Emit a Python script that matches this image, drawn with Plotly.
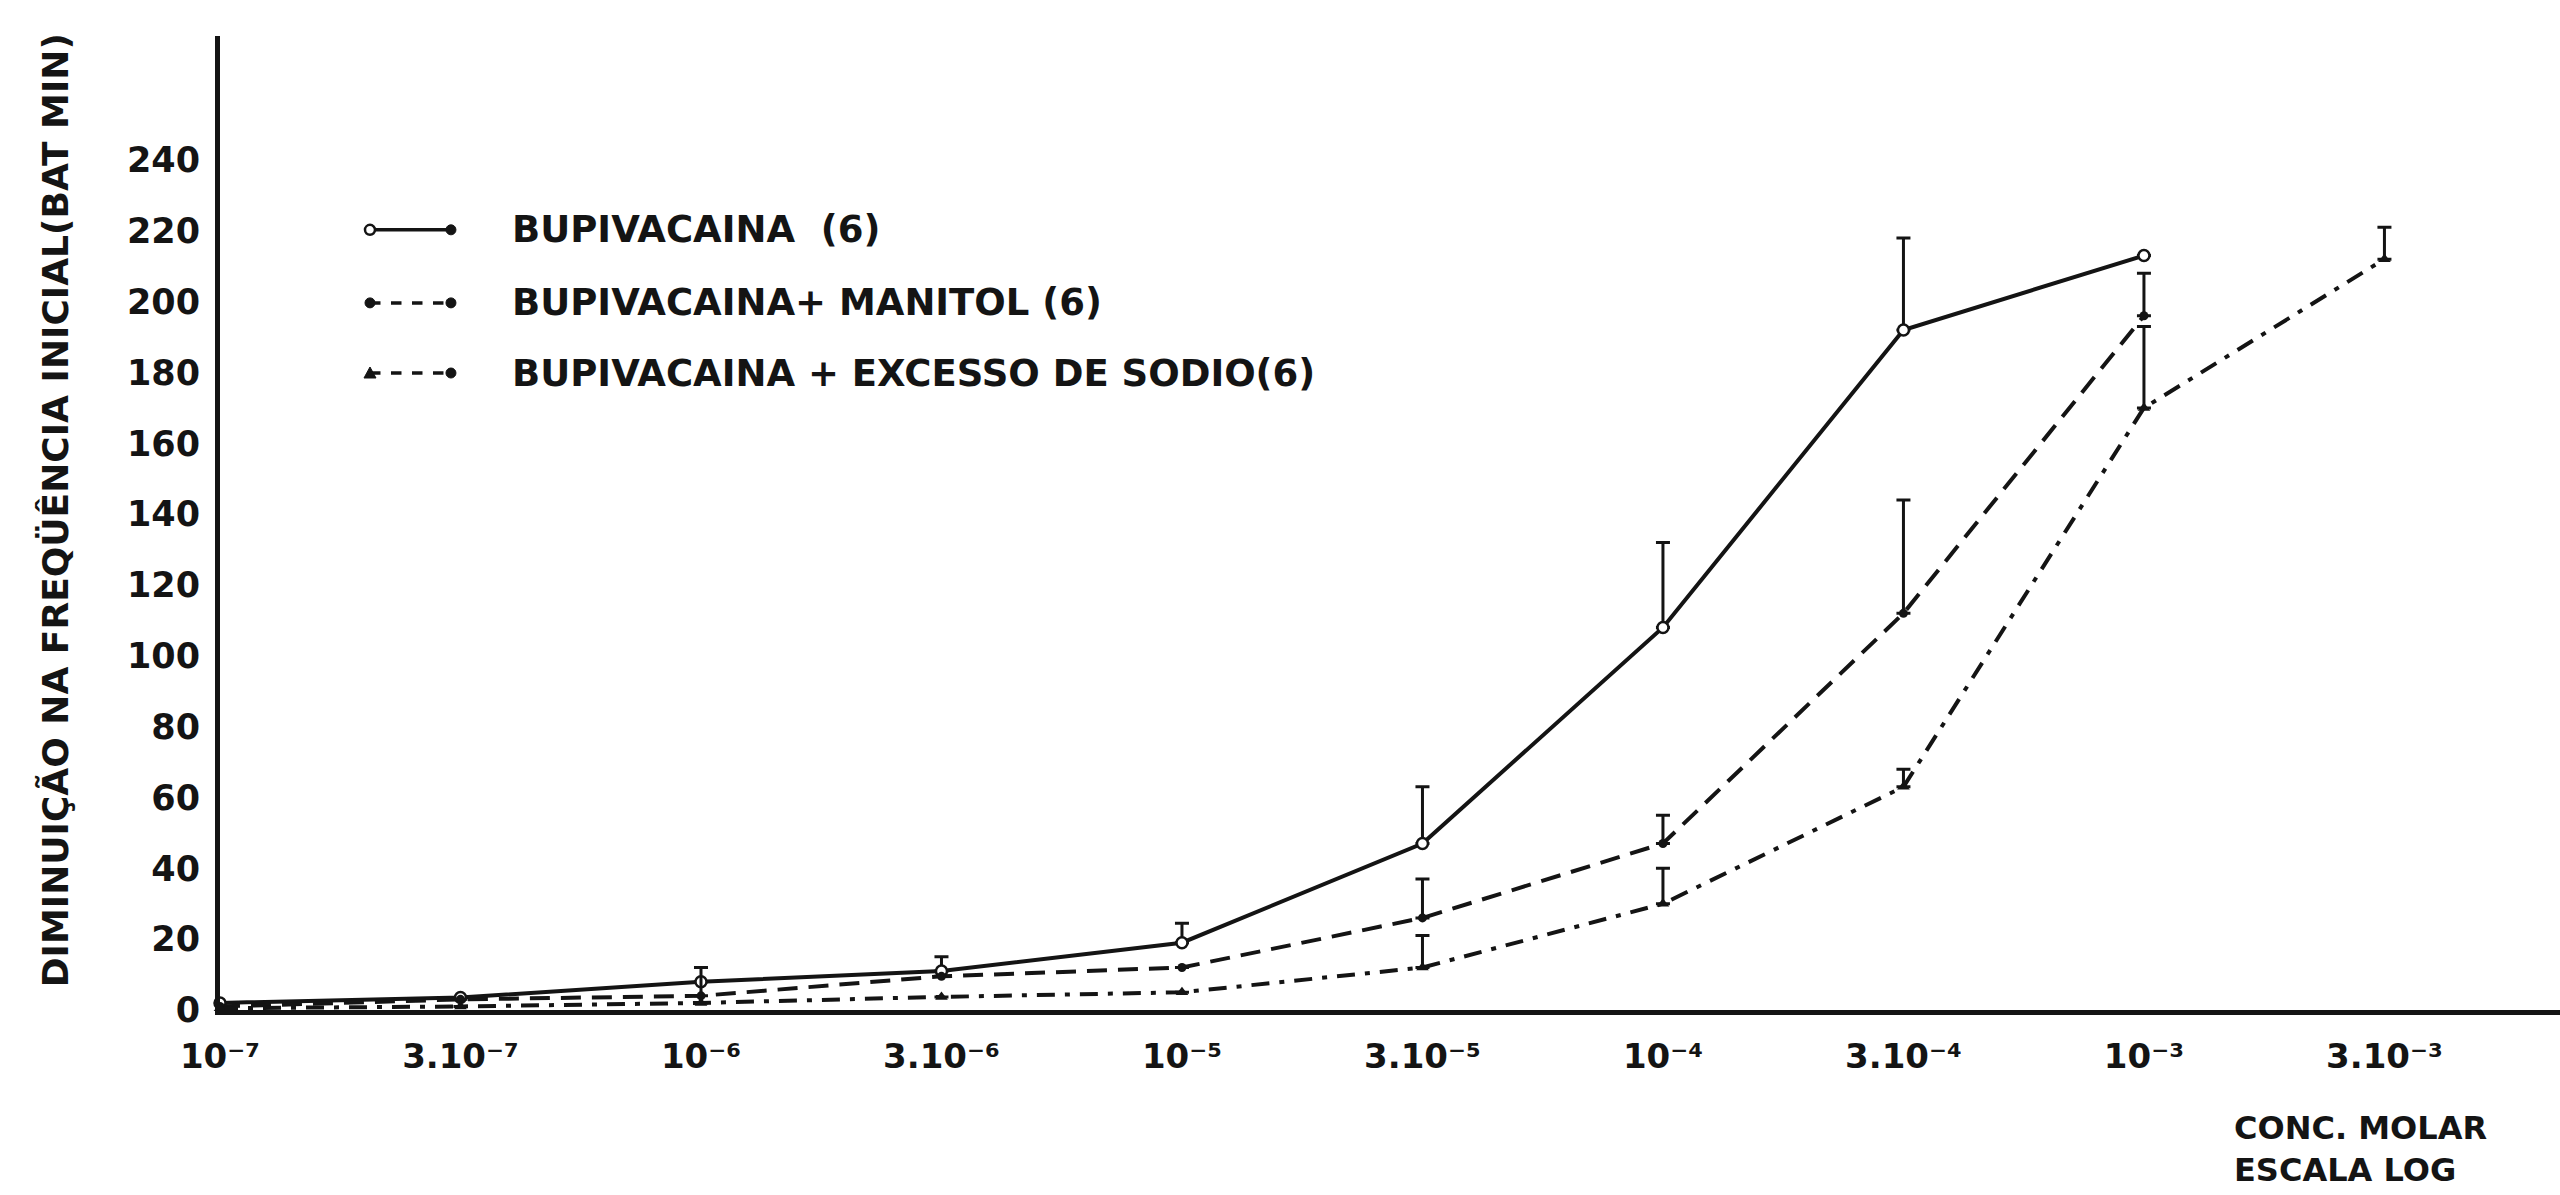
import plotly.graph_objects as go

# Molar concentrations (log scale, one step per category)
conc = ["1e-7", "3e-7", "1e-6", "3e-6", "1e-5", "3e-5", "1e-4", "3e-4", "1e-3", "3e-3"]
conc_labels = ["10⁻⁷", "3.10⁻⁷", "10⁻⁶", "3.10⁻⁶", "10⁻⁵",
               "3.10⁻⁵", "10⁻⁴", "3.10⁻⁴", "10⁻³", "3.10⁻³"]

# Decrease of initial rate (beats/min), mean and upper error
bupi = [2, 3.5, 8, 11, 19, 47, 108, 192, 213, None]
bupi_err = [None, None, None, 4, 5.5, 16, 24, 26, None, None]

mani = [1, 3, 4, 9.5, 12, 26, 47, 112, 196, None]
mani_err = [None, None, None, None, None, 11, 8, 32, 12, None]

sodio = [0.5, 1, 2, 3.7, 5, 12, 30, 63, 170, 212]
sodio_err = [None, None, 10, None, None, 9, 10, 5, 23, 9]

y_ticks = list(range(0, 241, 20))

names = ["BUPIVACAINA\u00a0\u00a0(6)", "BUPIVACAINA+ MANITOL (6)", "BUPIVACAINA + EXCESSO DE SODIO(6)"]

INK = "#141414"
FONT = "DejaVu Sans"
SOLID = "solid"
DASH_M = "20px,11px"
DASH_S = "18px,10px,5px,10px"


def err(e):
    return dict(type="data", symmetric=False, array=e,
                arrayminus=[0 if v is not None else None for v in e],
                color=INK, thickness=3, width=7, visible=True)


fig = go.Figure()
fig.add_trace(go.Scatter(
    x=conc, y=bupi, mode="lines+markers", name=names[0],
    line=dict(color=INK, width=4, dash=SOLID),
    marker=dict(symbol="circle", size=11, color="white", line=dict(color=INK, width=2.5)),
    error_y=err(bupi_err), cliponaxis=False))
fig.add_trace(go.Scatter(
    x=conc, y=mani, mode="lines+markers", name=names[1],
    line=dict(color=INK, width=4, dash=DASH_M),
    marker=dict(symbol="circle", size=9, color=INK),
    error_y=err(mani_err), cliponaxis=False))
fig.add_trace(go.Scatter(
    x=conc, y=sodio, mode="lines+markers", name=names[2],
    line=dict(color=INK, width=4, dash=DASH_S),
    marker=dict(symbol="triangle-up", size=11, color=INK),
    error_y=err(sodio_err), cliponaxis=False))

# Hand-built key: sample line with end markers, then the label
key_rows = [0.801, 0.726, 0.654]
key_x0, key_x1, key_text_x = 0.0641, 0.0987, 0.1239
key_dash = ["solid", "dash", "dash"]
shapes = []
annotations = []
for i, yy in enumerate(key_rows):
    shapes.append(dict(type="line", xref="paper", yref="paper", x0=key_x0, x1=key_x1, y0=yy, y1=yy,
                       line=dict(color=INK, width=3.5, dash=key_dash[i])))
    # right end: filled dot
    shapes.append(dict(type="circle", xref="paper", yref="paper", xsizemode="pixel", ysizemode="pixel",
                       xanchor=key_x1, yanchor=yy, x0=-5, x1=5, y0=-5, y1=5,
                       fillcolor=INK, line=dict(color=INK, width=1)))
    if i == 0:
        shapes.append(dict(type="circle", xref="paper", yref="paper", xsizemode="pixel", ysizemode="pixel",
                           xanchor=key_x0, yanchor=yy, x0=-5, x1=5, y0=-5, y1=5,
                           fillcolor="white", line=dict(color=INK, width=2.5)))
    elif i == 1:
        shapes.append(dict(type="circle", xref="paper", yref="paper", xsizemode="pixel", ysizemode="pixel",
                           xanchor=key_x0, yanchor=yy, x0=-5, x1=5, y0=-5, y1=5,
                           fillcolor=INK, line=dict(color=INK, width=1)))
    else:
        shapes.append(dict(type="path", xref="paper", yref="paper", xsizemode="pixel", ysizemode="pixel",
                           xanchor=key_x0, yanchor=yy, path="M -6 -5 L 6 -5 L 0 6 Z",
                           fillcolor=INK, line=dict(color=INK, width=1)))
    annotations.append(dict(text=names[i], xref="paper", yref="paper", x=key_text_x, y=yy,
                            xanchor="left", yanchor="middle", showarrow=False,
                            font=dict(family=FONT, size=37, color=INK, weight="bold")))

# Axis titles
annotations.append(dict(text="DIMINUIÇÃO NA FREQÜÊNCIA INICIAL(BAT MIN)", xref="paper", yref="paper",
                        x=-0.0705, y=0.513, xanchor="center", yanchor="middle", textangle=-90,
                        showarrow=False, font=dict(family=FONT, size=36, color=INK, weight="bold")))
annotations.append(dict(text="CONC. MOLAR<br>ESCALA LOG", xref="paper", yref="paper",
                        x=0.8598, y=-0.143, xanchor="left", yanchor="middle", align="left",
                        showarrow=False, font=dict(family=FONT, size=32, color=INK, weight="bold")))

fig.update_layout(
    width=2560, height=1195,
    margin=dict(l=220, r=0, t=36, b=185),
    paper_bgcolor="white", plot_bgcolor="white",
    showlegend=False,
    shapes=shapes, annotations=annotations,
    font=dict(family=FONT, color=INK),
    xaxis=dict(type="category", range=[0, 9.73], tickmode="array", tickvals=conc, ticktext=conc_labels,
               showgrid=False, zeroline=False, showline=True, linecolor=INK, linewidth=5,
               ticks="", ticklabelstandoff=12,
               tickfont=dict(family=FONT, size=34, color=INK, weight="bold")),
    yaxis=dict(range=[0, 275], tickmode="array", tickvals=y_ticks,
               showgrid=False, zeroline=False, showline=True, linecolor=INK, linewidth=5,
               ticks="", ticklabelstandoff=8,
               tickfont=dict(family=FONT, size=35, color=INK, weight="bold")),
)

fig.write_html("out.html")
